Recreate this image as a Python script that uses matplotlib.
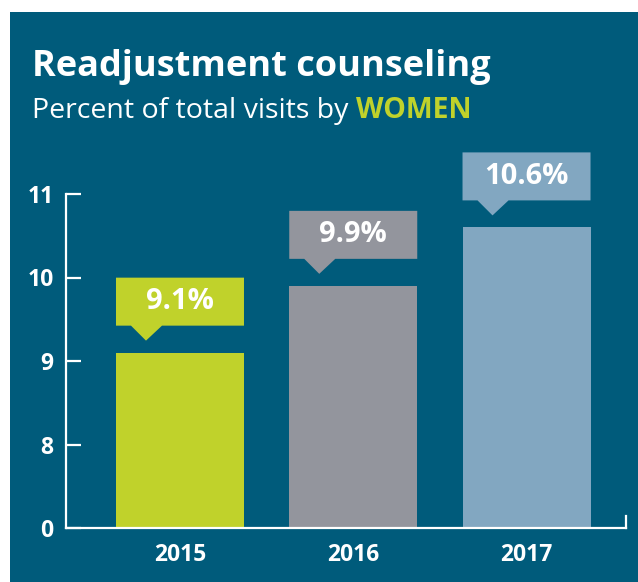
import numpy as np
import matplotlib
matplotlib.use('Agg')
import matplotlib.pyplot as plt
from matplotlib.patches import Rectangle, Polygon
from matplotlib.transforms import ScaledTranslation

years = ['2015', '2016', '2017']
values = [9.1, 9.9, 10.6]
labels = ['9.1%', '9.9%', '10.6%']
colors = ['#c0d22b', '#93959d', '#82a7c1']
y_ticks = [0, 8, 9, 10, 11]

teal = '#005b7b'
green = '#c0d22b'
plt.rcParams['font.family'] = ['Open Sans', 'DejaVu Sans']

fig = plt.figure(figsize=(6.38, 5.82), dpi=100)
fig.patch.set_facecolor('white')
# dark panel behind everything
fig.add_artist(Rectangle((10 / 638, 0), 1, 570 / 582, transform=fig.transFigure,
                         facecolor=teal, edgecolor='none', zorder=-10))

fig.text(32 / 638, 1 - 76 / 582, 'Readjustment counseling', color='white',
         fontsize=26, fontweight='bold', va='baseline', ha='left')
sub = fig.text(32 / 638, 1 - 118 / 582, 'Percent of total visits by ', color='white',
               fontsize=20.5, va='baseline', ha='left')

ax = fig.add_axes([66 / 638, 54 / 582, 560 / 638, 334 / 582])
ax.set_facecolor('none')
ax.annotate('WOMEN', xy=(1, 0), xycoords=sub, color=green, fontsize=20.5,
            fontweight='bold', va='bottom', ha='left', annotation_clip=False)


# broken axis: 0 -> 0, 8..11 evenly spaced above it
def fwd(v):
    v = np.asarray(v, dtype=float)
    return np.where(v >= 8, v - 7, v / 8)


def inv(p):
    p = np.asarray(p, dtype=float)
    return np.where(p >= 1, p + 7, p * 8)


ax.set_yscale('function', functions=(fwd, inv))
ax.set_ylim(0, 11)
ax.set_xlim(-0.658, 2.574)

x = np.arange(len(years))
w = 0.739
ax.bar(x, values, width=w, color=colors, zorder=2)

# callout boxes with a small pointer, sized in pixels above each bar
shape = np.array([(0, 27), (15, 27), (30, 12), (46, 27), (128, 27),
                  (128, 75), (0, 75)]) / 100
for xi, v, lab, c in zip(x, values, labels, colors):
    tr = fig.dpi_scale_trans + ScaledTranslation(xi - w / 2, v, ax.transData)
    ax.add_patch(Polygon(shape, closed=True, transform=tr, facecolor=c,
                         edgecolor='none', clip_on=False, zorder=3))
    tr2 = fig.dpi_scale_trans + ScaledTranslation(xi, v, ax.transData)
    ax.text(0, 0.51, lab, transform=tr2, color='white', fontsize=21,
            fontweight='bold', ha='center', va='center', zorder=4)

for s in ['top', 'right']:
    ax.spines[s].set_visible(False)
for s in ['left', 'bottom']:
    ax.spines[s].set_color('white')
    ax.spines[s].set_linewidth(1.6)
ax.plot([1, 1], [0, 0.036], transform=ax.transAxes, color='white', lw=1.6,
        clip_on=False)

ax.set_yticks(y_ticks)
ax.set_yticklabels([str(t) for t in y_ticks])
ax.yaxis.set_minor_locator(matplotlib.ticker.NullLocator())
ax.tick_params(axis='y', direction='in', length=10.5, width=1.6, color='white',
               labelcolor='white', labelsize=16.5, pad=9)
ax.set_xticks(x)
ax.set_xticklabels(years)
ax.tick_params(axis='x', length=0, labelcolor='white', labelsize=16.5, pad=11)
for t in ax.get_xticklabels() + ax.get_yticklabels():
    t.set_fontweight('bold')

fig.savefig('out.png', dpi=100, facecolor=fig.get_facecolor())
